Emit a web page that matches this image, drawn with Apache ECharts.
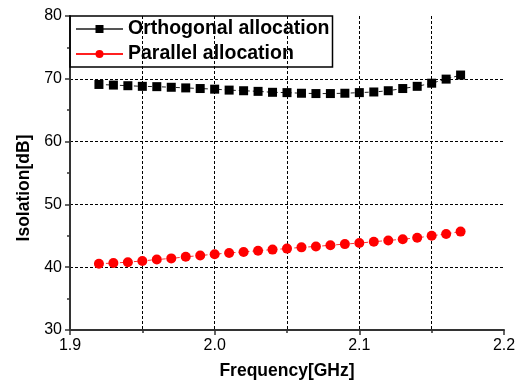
<!DOCTYPE html>
<html>
<head>
<meta charset="utf-8">
<script src="https://cdn.jsdelivr.net/npm/echarts@6/dist/echarts.min.js"></script>
<style>html,body{margin:0;padding:0;background:#fff}#c{width:521px;height:385px}</style>
</head>
<body>
<div id="c"></div>
<script>
const freqs = [1.92,1.93,1.94,1.95,1.96,1.97,1.98,1.99,2.00,2.01,2.02,2.03,2.04,2.05,2.06,2.07,2.08,2.09,2.10,2.11,2.12,2.13,2.14,2.15,2.16,2.17];
const orthogonal = [69.1,69.0,68.9,68.8,68.75,68.65,68.55,68.45,68.35,68.2,68.1,68.0,67.85,67.8,67.7,67.65,67.65,67.7,67.8,67.9,68.1,68.45,68.8,69.3,69.95,70.6];
const parallel = [40.55,40.66,40.8,41.0,41.22,41.4,41.65,41.86,42.07,42.27,42.43,42.63,42.8,42.96,43.16,43.3,43.5,43.68,43.84,44.06,44.26,44.46,44.68,45.0,45.3,45.67];
const seriesNames = ['Orthogonal allocation','Parallel allocation'];
const xTicks = [1.9,2.0,2.1,2.2];
const yTicks = [30,40,50,60,70,80];

const font = 'Liberation Sans, Arial, sans-serif';
const pair = (ys) => freqs.map((f,i)=>[f, ys[i]]);
const chart = echarts.init(document.getElementById('c'), null, {renderer:'canvas'});
const axisLine = {lineStyle:{color:'#333', width:2}};
const grid = {type:[3,2], color:'#000', width:1};
chart.setOption({
  animation:false,
  grid:{left:70, right:17, top:16, bottom:50},
  legend:{
    orient:'vertical', left:70, top:16,
    data:[
      {name:seriesNames[0], lineStyle:{color:'#555', type:'solid'}},
      {name:seriesNames[1], lineStyle:{color:'#ff2020', type:'solid'}}
    ],
    borderColor:'#000', borderWidth:1.5, borderRadius:0,
    padding:[3,3,3,5], itemGap:5, itemWidth:47, itemHeight:10,
    textStyle:{fontFamily:font, fontWeight:'bold', fontSize:19.5, color:'#000', lineHeight:20},
    lineStyle:{type:'solid'}
  },
  xAxis:{
    type:'value', min:xTicks[0], max:xTicks[xTicks.length-1], interval:0.1,
    name:'Frequency[GHz]', nameLocation:'middle', nameGap:32,
    nameTextStyle:{fontFamily:font, fontWeight:'bold', fontSize:17.5, color:'#000'},
    axisLine:axisLine,
    axisTick:{show:true, inside:false, length:5, lineStyle:{color:'#333', width:1.5}},
    minorTick:{show:true, splitNumber:2, length:3, lineStyle:{color:'#333', width:1.5}},
    axisLabel:{fontFamily:font, fontSize:16, color:'#000', margin:8, formatter:v=>v.toFixed(1)},
    splitLine:{show:true, showMinLine:false, showMaxLine:false, lineStyle:grid},
    minorSplitLine:{show:true, lineStyle:grid}
  },
  yAxis:{
    type:'value', min:yTicks[0], max:yTicks[yTicks.length-1], interval:10,
    name:'Isolation[dB]', nameLocation:'middle', nameGap:37,
    nameTextStyle:{fontFamily:font, fontWeight:'bold', fontSize:17.5, color:'#000', padding:[0,30,0,0]},
    axisLine:axisLine,
    axisTick:{show:true, inside:false, length:5, lineStyle:{color:'#333', width:1.5}},
    minorTick:{show:true, splitNumber:2, length:3, lineStyle:{color:'#333', width:1.5}},
    axisLabel:{fontFamily:font, fontSize:16, color:'#000', margin:8},
    splitLine:{show:true, showMinLine:false, showMaxLine:false, lineStyle:grid}
  },
  series:[
    {name:seriesNames[0], type:'line', data:pair(orthogonal), symbol:'rect', symbolSize:9,
     itemStyle:{color:'#000'}, lineStyle:{color:'#222', width:1, type:[4,3]}},
    {name:seriesNames[1], type:'line', data:pair(parallel), symbol:'circle', symbolSize:10,
     itemStyle:{color:'#ff0000'}, lineStyle:{color:'#ff3030', width:1, type:[4,3]}}
  ]
});
</script>
</body>
</html>
